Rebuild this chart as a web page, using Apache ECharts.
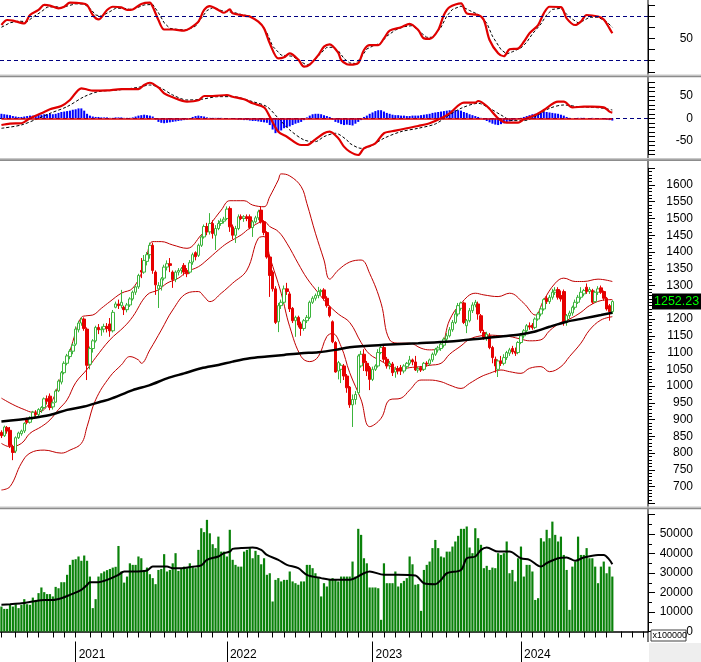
<!DOCTYPE html>
<html><head><meta charset="utf-8">
<script src="https://cdn.jsdelivr.net/npm/echarts/dist/echarts.min.js"></script>
<style>html,body{margin:0;padding:0;background:#fff}#c{width:701px;height:662px}</style>
</head><body><div id="c"></div><script>
// ---------- categories (weekly bars, Friday dates) ----------
const firstFriday = '2020-07-03';
const closedWeekFridays = ['2022-02-04'];
const emptySlotsAfter = 12;

// ---------- price candles [open, close, low, high] ----------
const ohlc = [
[862,852,845,868],[852,878,848,882],[876,866,858,881],[868,822,815,878],[818,802,779,825],
[806,846,800,850],[846,860,842,864],[858,866,852,870],[866,889,860,892],[902,892,886,906],
[892,905,888,910],[905,922,900,926],[920,915,908,928],[915,930,910,934],[928,936,920,940],
[936,962,932,966],[962,955,945,972],[970,936,928,978],[938,950,930,955],[952,985,950,990],
[986,1015,982,1020],[1012,1040,1005,1045],[1040,1068,1035,1074],[1068,1090,1062,1096],[1088,1104,1080,1110],
[1104,1122,1095,1128],[1125,1170,1120,1178],[1168,1188,1160,1195],[1188,1200,1180,1206],[1200,1172,1165,1205],
[1170,1062,1018,1175],[1065,1112,1050,1118],[1112,1135,1100,1140],[1135,1175,1130,1180],[1175,1168,1155,1185],
[1168,1170,1150,1178],[1170,1178,1160,1186],[1178,1172,1160,1188],[1185,1165,1147,1203],[1165,1220,1160,1227],
[1235,1245,1232,1252],[1245,1240,1230,1258],[1240,1250,1232,1287],[1235,1228,1212,1240],[1228,1242,1220,1248],
[1242,1260,1236,1265],[1260,1280,1255,1285],[1280,1296,1272,1300],[1296,1330,1290,1335],[1345,1340,1322,1382],
[1340,1375,1335,1391],[1372,1392,1360,1400],[1392,1420,1380,1428],[1420,1345,1335,1428],[1340,1302,1272,1345],
[1290,1300,1233,1310],[1298,1320,1285,1325],[1322,1355,1315,1362],[1355,1365,1345,1375],[1365,1360,1340,1382],
[1340,1318,1293,1345],[1318,1340,1310,1345],[1340,1345,1330,1352],[1345,1350,1335,1355],[1360,1340,1330,1367],
[1345,1335,1325,1352],[1340,1368,1335,1376],[1370,1392,1362,1398],[1398,1386,1375,1402],[1390,1420,1385,1425],
[1420,1445,1415,1450],[1445,1476,1440,1482],[1476,1460,1450,1487],[1460,1485,1452,1516],[1485,1455,1440,1495],
[1450,1470,1406,1480],[1470,1485,1465,1495],[1485,1492,1478,1500],[1492,1498,1485,1505],[1500,1528,1495,1536],
[1530,1475,1460,1536],[1475,1450,1438,1482],[1450,1470,1427,1478],[1470,1505,1465,1512],[1505,1500,1495,1512],
[1500,1505,1490,1510],[1505,1500,1492,1512],[1505,1473,1468,1512],[1473,1490,1445,1495],[1490,1502,1485,1508],
[1502,1520,1495,1526],[1525,1490,1485,1535],[1490,1458,1450,1495],[1458,1385,1380,1462],[1385,1330,1266,1390],
[1340,1290,1282,1345],[1290,1190,1185,1298],[1192,1240,1161,1248],[1240,1250,1230,1258],[1250,1290,1245,1300],
[1290,1282,1272,1308],[1275,1230,1221,1282],[1232,1195,1188,1236],[1195,1205,1147,1210],[1205,1182,1175,1210],
[1185,1172,1150,1192],[1172,1195,1165,1200],[1195,1205,1188,1212],[1205,1250,1200,1255],[1250,1262,1245,1268],
[1262,1270,1255,1276],[1270,1282,1262,1296],[1282,1285,1270,1290],[1287,1262,1255,1292],[1262,1240,1234,1268],
[1236,1210,1205,1240],[1192,1132,1128,1196],[1130,1042,1040,1134],[1045,1070,1020,1075],[1050,1062,1009,1068],
[1060,1030,1018,1066],[1030,995,980,1036],[997,944,935,1000],[944,960,878,975],[960,975,945,985],
[980,1090,975,1095],[1060,1095,1055,1105],[1095,1070,1045,1110],[1068,1045,1030,1075],[1055,1020,988,1060],
[1020,1050,1015,1058],[1050,1060,1045,1065],[1060,1100,1055,1110],[1100,1115,1095,1122],[1115,1080,1070,1120],
[1080,1060,1052,1087],[1062,1068,1050,1075],[1066,1040,1030,1072],[1042,1050,1025,1058],[1052,1045,1035,1060],
[1055,1045,1033,1063],[1045,1060,1038,1065],[1058,1068,1050,1072],[1068,1078,1062,1090],[1078,1072,1062,1082],
[1072,1048,1045,1090],[1048,1052,1040,1058],[1055,1048,1042,1060],[1050,1068,1045,1072],[1068,1066,1058,1074],
[1066,1078,1060,1082],[1078,1095,1072,1100],[1095,1110,1090,1114],[1108,1114,1100,1120],[1112,1125,1105,1132],
[1122,1140,1115,1145],[1140,1150,1132,1158],[1150,1168,1145,1176],[1168,1190,1162,1197],[1190,1215,1185,1227],
[1215,1240,1208,1248],[1232,1248,1225,1252],[1248,1190,1185,1252],[1180,1195,1158,1200],[1195,1225,1190,1233],
[1225,1242,1218,1250],[1242,1250,1235,1257],[1245,1215,1198,1252],[1210,1165,1158,1215],[1160,1145,1138,1168],
[1145,1155,1135,1162],[1150,1115,1110,1158],[1115,1085,1068,1120],[1080,1060,1040,1088],[1050,1075,1027,1080],
[1075,1068,1060,1090],[1068,1085,1062,1095],[1085,1100,1078,1105],[1098,1108,1090,1114],[1112,1102,1095,1120],
[1104,1098,1090,1115],[1100,1130,1095,1134],[1130,1150,1125,1158],[1150,1165,1142,1170],[1165,1180,1158,1185],
[1180,1176,1168,1190],[1182,1174,1168,1188],[1175,1200,1170,1205],[1200,1215,1195,1220],[1215,1230,1208,1235],
[1230,1258,1225,1262],[1262,1252,1245,1270],[1252,1265,1245,1272],[1265,1280,1258,1290],[1280,1286,1272,1295],
[1288,1265,1258,1295],[1270,1260,1252,1285],[1282,1190,1180,1288],[1190,1210,1180,1215],[1210,1218,1200,1225],
[1218,1235,1210,1240],[1235,1250,1228,1258],[1250,1265,1245,1272],[1265,1280,1258,1295],[1275,1285,1268,1290],
[1295,1282,1275,1306],[1282,1288,1275,1295],[1285,1250,1245,1290],[1252,1280,1248,1285],[1280,1290,1272,1298],
[1293,1280,1275,1300],[1282,1262,1255,1285],[1262,1230,1225,1266],[1240,1222,1195,1245],[1222,1252.23,1215,1256]
];

// ---------- volume (x100000) ----------
const volume = [
12800,11600,11600,13700,12800,14000,12000,13700,16600,14000,13700,
17400,16200,19700,22600,20200,19200,19200,18000,22900,22200,
25300,25300,29100,34200,36800,37100,38500,36300,39000,36300,
28200,12000,16600,28200,29900,30800,31500,32100,32800,33200,
43900,30800,25100,28200,35000,34200,34200,38500,37600,31600,
32800,29400,27400,24300,31600,32100,39700,30800,31600,35000,
40200,31100,32100,33300,32500,35000,33300,32500,41900,53000,
51000,57300,50400,44800,42800,48700,41000,41000,38500,52200,
36800,34200,33300,33300,41000,41900,42800,37600,41400,39300,
34500,37600,29100,29900,15400,26500,27400,25700,26500,26500,
30800,25700,24800,24000,25700,25700,34200,34200,32500,29900,
27400,18000,24800,23100,26500,27400,26500,25700,28200,28200,
28200,28200,35900,28200,52700,49600,37600,35000,22600,22600,
22600,22200,6000,35000,24800,24800,24800,30800,23100,24800,
26000,27400,38500,34500,24000,24300,10600,31600,34200,35900,
42800,47000,42800,38500,38000,41000,41000,43600,46200,49100,
52700,52700,53900,43100,40200,53000,47900,44500,32500,33700,
31600,32800,32500,40200,39300,40200,46200,29900,31600,25700,
37600,43600,28200,34200,34200,30800,16200,17100,47900,46200,
52200,47900,56400,49600,46200,48700,39300,31600,11100,33300,
35900,48700,39300,39300,42800,37600,37600,33300,24800,33300,
35900,29900,33300,28200
];

// ---------- overlays: [barIndex, value] ----------
const bbUpper = [[0,964],[4,945],[8,930],[11,922],[14,925],[16,940],[18,960],[20,1005],[22,1060],[24,1105],[26,1160],[28,1205],[30,1210],[32,1212],[35,1232],[38,1252],[42,1277],[46,1292],[50,1356],[53,1431],[56,1431],[60,1421],[65,1411],[70,1451],[73,1481],[77,1525],[80,1553],[85,1553],[88,1540],[92,1535],[94,1565],[97,1615],[98,1633],[101,1627],[105,1595],[107,1545],[110,1456],[113,1376],[115,1319],[118,1346],[122,1370],[126,1376],[129,1336],[133,1247],[136,1138],[140,1128],[143,1128],[147,1113],[150,1108],[154,1118],[157,1197],[161,1247],[166,1277],[169,1272],[174,1267],[178,1277],[183,1247],[187,1212],[190,1257],[194,1307],[197,1322],[201,1312],[204,1312],[209,1319],[214,1312]];
const bbMiddle = [[0,829],[3,819],[7,829],[10,859],[14,879],[17,899],[20,930],[23,959],[26,1010],[30,1050],[33,1085],[38,1138],[43,1177],[46,1207],[51,1272],[55,1287],[58,1307],[62,1322],[65,1341],[69,1356],[72,1376],[76,1406],[79,1426],[84,1451],[87,1471],[92,1491],[94,1476],[97,1461],[100,1426],[104,1365],[107,1322],[111,1278],[114,1247],[118,1215],[122,1190],[126,1130],[129,1095],[133,1075],[136,1060],[140,1050],[143,1055],[147,1058],[150,1062],[154,1068],[157,1095],[161,1120],[164,1140],[168,1150],[171,1152],[175,1150],[178,1148],[182,1140],[185,1135],[189,1138],[192,1165],[196,1190],[199,1200],[203,1220],[206,1240],[210,1255],[214,1258]];
const bbLower = [[0,690],[3,700],[7,770],[10,800],[15,809],[21,800],[24,809],[28,829],[30,879],[33,959],[38,1028],[42,1063],[45,1088],[48,1078],[49,1068],[52,1108],[56,1167],[60,1227],[65,1277],[69,1282],[71,1267],[73,1252],[77,1277],[81,1307],[86,1346],[90,1441],[92,1446],[94,1386],[98,1277],[101,1177],[105,1088],[108,1073],[111,1088],[114,1148],[116,1157],[119,1118],[122,1040],[126,959],[129,879],[133,904],[136,959],[140,964],[143,988],[147,1018],[150,1018],[154,1013],[157,1003],[161,993],[164,1008],[168,1028],[171,1038],[175,1048],[178,1043],[182,1038],[185,1053],[189,1058],[192,1043],[196,1058],[199,1088],[203,1128],[206,1167],[210,1197],[214,1207]];
const ma200 = [[0,894],[10,904],[17,914],[23,929],[29,939],[35,954],[38,961],[46,988],[52,1003],[58,1023],[64,1038],[70,1053],[76,1063],[81,1073],[87,1083],[93,1088],[99,1093],[105,1098],[111,1101],[117,1108],[122,1116],[134,1123],[146,1128],[157,1133],[169,1143],[175,1148],[181,1153],[187,1163],[192,1177],[198,1192],[204,1202],[210,1212],[214,1219]];
const volumeMA = [[0,13700],[3,14000],[7,14500],[11,15400],[15,16200],[18,16200],[21,17100],[24,18800],[28,21400],[30,23900],[31,25300],[34,25300],[37,26500],[41,29100],[43,30800],[46,30800],[51,31300],[53,33300],[58,33300],[60,32500],[63,32500],[67,33300],[70,33900],[72,36800],[76,38500],[78,40200],[80,41000],[81,42400],[84,42800],[88,43100],[91,41900],[93,39300],[97,36800],[100,34200],[104,32500],[107,29100],[112,27400],[116,26500],[122,26500],[127,29900],[129,30800],[134,29100],[139,29100],[145,28700],[148,24800],[152,24300],[154,26500],[156,29900],[161,31600],[163,37600],[166,38500],[168,41900],[170,43100],[174,41000],[178,41000],[182,37600],[185,36800],[189,33300],[191,35100],[195,37600],[198,38000],[201,36300],[204,38000],[209,39300],[211,39300],[213,36800],[214,34500]];
const rsi = [[0,62],[2,66.5],[4,66],[8,63.5],[10,71],[13,75.5],[15,80],[17,79.4],[20,77],[22,78.4],[24,82],[28,81.5],[30,80],[32,71],[34,67],[37,75.5],[39,78.4],[42,77.8],[44,75.5],[46,76],[49,80.9],[52,82],[53,78.4],[55,66.5],[57,58],[60,58],[64,57],[66,59],[69,65],[71,75.5],[73,79],[76,75.5],[78,73],[80,76],[81,72.5],[86,70],[87,69.6],[90,65],[92,59],[94,45.6],[97,32],[99,33],[101,36.6],[104,31],[106,24.6],[108,26.5],[111,35],[113,42.6],[115,44.7],[118,37],[119,30.6],[121,26.8],[122,26.5],[125,28],[127,39.6],[129,44],[132,44],[134,50],[136,57],[140,60],[143,63],[146,57.5],[148,50],[150,49.6],[153,57.5],[155,71],[157,78],[161,81.5],[163,72.5],[167,71],[169,66.5],[171,48.6],[174,36.6],[176,34],[178,40.2],[181,41],[183,47],[185,54.6],[188,62],[190,72.5],[192,78.4],[196,78],[198,68],[201,62],[203,65],[205,71],[209,69.6],[211,67],[213,59],[214,54.6]];
const rsiSignal = [[0,60],[3,64],[6,65.5],[9,65],[11,69],[14,74],[16,78],[19,78.5],[21,77.5],[23,79],[26,81],[29,80.8],[31,77],[33,71],[35,70],[38,74],[40,77],[43,77],[45,76],[47,77],[50,80],[53,80.5],[55,73],[57,64],[59,59],[62,58],[65,57.5],[68,61],[70,68],[72,75],[74,77.5],[77,75],[79,74],[81,73.5],[84,71.5],[87,70],[89,67],[91,63],[93,55],[95,43],[98,35],[100,34.5],[102,34],[105,29],[107,26],[109,28.5],[112,37],[114,42],[116,42],[118,39],[120,32],[122,28],[124,27.5],[126,33],[128,40.5],[130,43],[133,46],[135,52],[138,57.5],[141,60.5],[144,61.5],[147,55],[149,51],[151,51],[154,60],[156,70],[158,76],[161,79],[164,75],[167,71.5],[170,64],[172,52],[175,40],[177,36],[179,38],[182,41.5],[184,46.5],[186,54],[189,63],[191,71],[193,76],[196,77],[199,69],[202,64],[204,66],[206,69],[209,69],[212,65],[214,60]];
const macd = [[0,-14.9],[3,-11.8],[7,-11],[10,0],[14,11],[17,20],[21,27.3],[24,40.7],[28,66.7],[30,64],[32,61.3],[37,62],[42,64.8],[48,64.8],[50,74],[52,79],[55,68.5],[57,55.5],[60,46.6],[65,37],[69,40],[71,49.6],[74,49.6],[79,51.8],[81,48],[85,42.2],[88,33.3],[92,24.4],[94,3.6],[97,-29.8],[100,-40.9],[105,-59.3],[107,-59.3],[110,-46.7],[113,-33.3],[115,-29.8],[118,-44.4],[120,-63],[122,-74],[125,-81.5],[127,-66.7],[131,-55.5],[134,-33.3],[138,-27.5],[142,-22.2],[146,-17],[150,-11],[154,0],[157,11],[162,34.7],[166,34.7],[167,38.5],[170,27.3],[174,0],[177,-9.7],[181,-9.7],[183,-2.2],[187,7.3],[190,18.4],[195,37],[197,37],[200,24.4],[204,25.9],[207,26],[211,24.4],[213,14.7],[214,12.5]];
const macdSignal = [[0,-22.2],[7,-14.8],[13,0],[17,11],[23,25.9],[29,48.1],[34,59.3],[41,63],[48,68.9],[52,74],[56,66.7],[60,51.9],[65,40.7],[70,42.2],[76,48.1],[81,48.1],[88,37],[93,25.9],[97,0],[101,-25.9],[106,-48.1],[110,-51.9],[113,-40.7],[117,-33.3],[121,-48.1],[122,-55.5],[126,-66.7],[129,-63],[134,-44.4],[140,-29.6],[146,-22.2],[152,-12.6],[156,3.7],[161,22.2],[167,33.3],[171,22.2],[175,7.4],[179,-5.2],[183,-5.2],[188,7.4],[192,22.2],[197,29.6],[202,25.9],[207,24.4],[211,22.2],[214,18.5]];
const macdHist = [
10,9,8,7,5,4,3,3,4,5, 6,6,7,8,8,9,9,10,9,10, 12,14,15,16,17,19,20,22,22,17,
10,6,4,3,3,2,2,2,1,1, 2,2,2,1,1,1,2,4,6,7, 8,7,6,4,-3,-8,-10,-11,-10,-9,
-8,-7,-6,-5,-4,-3,-1,3,5,6, 5,4,2,1,1,1,1,1,0,0, -1,-1,-2,-3,-3,-4,-4,-5,-6,-6,
-7,-8,-9,-10,-15,-25,-33,-30,-27,-22, -20,-18,-15,-12,-10,-8,-4,2,6,9, 10,10,9,7,5,3,-3,-8,-10,-13,
-15,-14,-15,-16,-12,-8,-4,3,6,10, 13,16,18,18,15,12,10,8,7,7, 6,6,5,5,6,6,6,7,8,9,
10,12,13,14,15,16,17,18,18,18, 18,17,14,12,9,7,5,3,1,-3, -6,-9,-12,-14,-15,-13,-11,-9,-7,-5,
-3,-1,1,3,5,7,9,10,12,13, 14,14,13,12,11,10,8,6,3,1, 0,0,1,1,1,0,0,1,0,0, -1,-2,-3,-4,-5
];

// ---------- axis tick labels ----------
const rsiLabels = [50];
const rsiGuides = [30, 70];
const macdLabels = [-50, 0, 50];
const priceLabels = [700,750,800,850,900,950,1000,1050,1100,1150,1200,1250,1300,1350,1400,1450,1500,1550,1600];
const volumeLabels = [0,10000,20000,30000,40000,50000];
const volumeUnit = 'x100000';

// ---------- build ----------
const cats = [];
(function(){
  let t = Date.parse(firstFriday + 'T00:00:00Z');
  while (cats.length < ohlc.length + emptySlotsAfter) {
    const s = new Date(t).toISOString().slice(0,10);
    if (!closedWeekFridays.includes(s)) cats.push(s);
    t += 7*86400000;
  }
})();
const monthStart = i => i === 0 || cats[i].slice(0,7) !== cats[i-1].slice(0,7);
const yearStart = i => i > 0 && cats[i].slice(0,4) !== cats[i-1].slice(0,4);
const lastClose = ohlc[ohlc.length-1][1];

const FONT = 'Liberation Sans, Arial, sans-serif';
const gridL = 0, gridR = 53;
function yAx(gi, min, max, interval, labels, minor) {
  return {
    type:'value', gridIndex: gi, position:'right', min, max, interval,
    splitLine:{show:false},
    axisLine:{show:true, onZero:false, lineStyle:{color:'#000', width:1}},
    axisTick:{show:true, inside:false, length:7, lineStyle:{color:'#000'}},
    minorTick: minor ? {show:true, splitNumber:minor, length:4, lineStyle:{color:'#000'}} : {show:false},
    axisLabel:{show:true, align:'right', margin:45, color:'#000', fontSize:12, fontFamily:FONT,
      formatter: v => labels.includes(v) ? String(v) : ''}
  };
}
function xHidden(gi){ return {type:'category', gridIndex:gi, data:cats, show:false, boundaryGap:true}; }

const chart = echarts.init(document.getElementById('c'), null, {renderer:'canvas'});
const lineBase = {type:'line', showSymbol:false, symbol:'none', clip:false, silent:true};

chart.setOption({
  animation:false,
  backgroundColor:'#fff',
  grid:[
    {left:gridL, right:gridR, top:4.95, height:66.9},
    {left:gridL, right:gridR, top:82.3, height:72},
    {left:gridL, right:gridR, top:168.2, height:335.2},
    {left:gridL, right:gridR, top:514.6, height:116.9}
  ],
  xAxis:[
    xHidden(0), xHidden(1), xHidden(2),
    {type:'category', gridIndex:3, data:cats, boundaryGap:true,
      axisLine:{show:true, onZero:false, lineStyle:{color:'#000', width:1.5}},
      axisTick:{show:false}, axisLabel:{show:false}},
    {type:'category', gridIndex:3, data:cats, boundaryGap:true, position:'bottom', offset:10,
      axisLine:{show:false},
      axisTick:{show:true, alignWithLabel:true, length:6, interval:(i)=>monthStart(i), lineStyle:{color:'#000'}},
      axisLabel:{show:false}},
    {type:'category', gridIndex:3, data:cats, boundaryGap:true, position:'bottom', offset:10,
      axisLine:{show:false},
      axisTick:{show:true, alignWithLabel:true, length:21, interval:(i)=>yearStart(i), lineStyle:{color:'#000'}},
      axisLabel:{show:true, interval:(i)=>yearStart(i), align:'left', padding:[0,0,0,3], margin:7,
        color:'#000', fontSize:12, fontFamily:FONT, formatter:v=>v.slice(0,4)}}
  ],
  yAxis:[
    yAx(0, 20, 80, 10, rsiLabels, 0),
    yAx(1, -80, 80, 10, macdLabels, 0),
    yAx(2, 650, 1650, 50, priceLabels, 5),
    yAx(3, 0, 60000, 10000, volumeLabels, 2)
  ],
  series:[
    // RSI
    Object.assign({}, lineBase, {xAxisIndex:0, yAxisIndex:0, data:rsiSignal, z:3,
      lineStyle:{color:'#000', width:1, type:[3,2]},
      markLine:{silent:true, symbol:'none', label:{show:false},
        lineStyle:{color:'#000080', width:1, type:[4,3]},
        data: rsiGuides.map(v=>({yAxis:v}))}}),
    Object.assign({}, lineBase, {xAxisIndex:0, yAxisIndex:0, data:rsi, z:4, smooth:0.3,
      lineStyle:{color:'#e00000', width:2.2}}),
    // MACD
    {type:'bar', xAxisIndex:1, yAxisIndex:1, data:macdHist, barWidth:2, silent:true, z:2,
      itemStyle:{color:'#0000ff'},
      markLine:{silent:true, symbol:'none', label:{show:false},
        data:[
          {yAxis:0, lineStyle:{color:'#000080', width:1, type:[4,3]}},
          [{coord:[0,0], lineStyle:{color:'#e00000', width:1.5, type:'solid'}},{coord:[ohlc.length-1,0]}]
        ]}},
    Object.assign({}, lineBase, {xAxisIndex:1, yAxisIndex:1, data:macdSignal, z:3, smooth:0.3,
      lineStyle:{color:'#000', width:1, type:[3,2]}}),
    Object.assign({}, lineBase, {xAxisIndex:1, yAxisIndex:1, data:macd, z:4, smooth:0.3,
      lineStyle:{color:'#e00000', width:2.2}}),
    // price
    Object.assign({}, lineBase, {xAxisIndex:2, yAxisIndex:2, data:bbUpper, z:1, smooth:0.4,
      lineStyle:{color:'#c00000', width:1}}),
    Object.assign({}, lineBase, {xAxisIndex:2, yAxisIndex:2, data:bbMiddle, z:1, smooth:0.4,
      lineStyle:{color:'#c00000', width:1}}),
    Object.assign({}, lineBase, {xAxisIndex:2, yAxisIndex:2, data:bbLower, z:1, smooth:0.4,
      lineStyle:{color:'#c00000', width:1}}),
    {type:'candlestick', xAxisIndex:2, yAxisIndex:2, data:ohlc, barWidth:3, silent:true, z:2,
      itemStyle:{color:'#ffffff', color0:'#e60000', borderColor:'#3cb43c', borderColor0:'#e60000', borderWidth:1}},
    Object.assign({}, lineBase, {xAxisIndex:2, yAxisIndex:2, data:ma200, z:3, smooth:0.3,
      lineStyle:{color:'#000', width:2.5},
      markLine:{silent:true, symbol:'none', precision:2, data:[{yAxis:lastClose}],
        lineStyle:{color:'rgba(0,0,0,0)', width:1, type:'solid'},
        label:{show:true, position:'end', distance:4, formatter:()=>lastClose.toFixed(2),
          backgroundColor:'#000', color:'#00ff00', fontSize:12.5, fontFamily:FONT, padding:[2,3,1,2]}}}),
    // volume
    {type:'bar', xAxisIndex:3, yAxisIndex:3, data:volume, barWidth:2.2, silent:true, z:2,
      itemStyle:{color:'#0a820a'}},
    Object.assign({}, lineBase, {xAxisIndex:3, yAxisIndex:3, data:volumeMA, z:3, smooth:0.3,
      lineStyle:{color:'#000', width:2}})
  ],
  graphic:[
    {type:'line', shape:{x1:648, y1:0, x2:648, y2:642}, style:{stroke:'#000', lineWidth:1}, silent:true, z:80},
    {type:'rect', shape:{x:0, y:74.5, width:701, height:1.2}, style:{fill:'#c8c8c8'}, silent:true, z:100},
    {type:'rect', shape:{x:0, y:75.7, width:701, height:1.6}, style:{fill:'#8c8c8c'}, silent:true, z:100},
    {type:'rect', shape:{x:0, y:158, width:701, height:1.2}, style:{fill:'#c8c8c8'}, silent:true, z:100},
    {type:'rect', shape:{x:0, y:159.2, width:701, height:1.8}, style:{fill:'#8c8c8c'}, silent:true, z:100},
    {type:'rect', shape:{x:0, y:506.5, width:701, height:1.2}, style:{fill:'#c8c8c8'}, silent:true, z:100},
    {type:'rect', shape:{x:0, y:507.7, width:701, height:1.6}, style:{fill:'#8c8c8c'}, silent:true, z:100},
    {type:'rect', shape:{x:649, y:643, width:52, height:19}, style:{fill:'#eeeeee'}, silent:true, z:90},
    {type:'rect', shape:{x:651, y:630, width:35, height:11}, style:{fill:'#fff', stroke:'#404040', lineWidth:1}, silent:true, z:95},
    {type:'text', left:652.5, top:631, style:{text:volumeUnit, fill:'#000', font:'9px ' + FONT}, silent:true, z:96}
  ]
});
</script></body></html>
